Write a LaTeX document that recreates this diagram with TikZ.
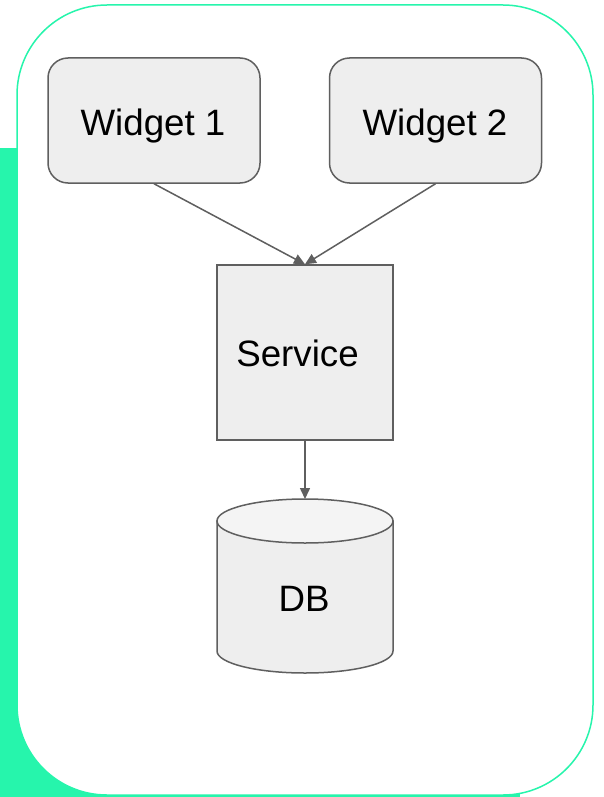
\documentclass[tikz,border=0pt]{standalone}
\usepackage{fontspec}
\setmainfont{Liberation Sans}
\usetikzlibrary{arrows.meta}
\definecolor{mint}{HTML}{26F5AC}
\definecolor{boxfill}{HTML}{EEEEEE}
\definecolor{boxtop}{HTML}{F4F4F4}
\definecolor{boxline}{HTML}{5F5F5F}
\tikzset{
  lbl/.style={font=\fontsize{36.7}{40}\selectfont, text=black, anchor=base, inner sep=0pt},
  widgetbox/.style={draw=boxline, fill=boxfill, line width=1.5pt, rounded corners=20pt,
    minimum width=212pt, minimum height=125pt, inner sep=0pt},
  servicebox/.style={draw=boxline, fill=boxfill, line width=1.5pt,
    minimum width=176pt, minimum height=175pt, inner sep=0pt},
  arr/.style={draw=boxline, line width=1.5pt, -{Triangle[length=11pt,width=10pt]}},
}
\begin{document}
\begin{tikzpicture}[x=1pt,y=-1pt]
\useasboundingbox (0,0) rectangle (604,797);
\fill[white] (0,0) rectangle (604,797);
% green band
\fill[mint] (0,148) rectangle (520,797);
% outer rounded frame
\draw[mint, line width=1.5pt, fill=white, rounded corners=90pt] (17,5) rectangle (593,795);
% widgets
\node[widgetbox] (w1) at (154,120.5) {};
\node[lbl] (w1t) at (153,135.5) {Widget 1};
\node[widgetbox] (w2) at (435.5,120.5) {};
\node[lbl] (w2t) at (435,135.5) {Widget 2};
% service
\node[servicebox] (svc) at (305,352.5) {};
\node[lbl] (svct) at (297.5,366) {Service};
% DB cylinder
\filldraw[draw=boxline, fill=boxfill, line width=1.5pt]
  (217,521) -- (217,651) arc[start angle=180, end angle=360, x radius=88pt, y radius=22pt] -- (393,521) -- cycle;
\filldraw[draw=boxline, fill=boxtop, line width=1.5pt] (305,521) ellipse[x radius=88pt, y radius=22pt];
\coordinate (dbtop) at (305,499);
\node[lbl] (db) at (304,611) {DB};
% connectors
\draw[arr] (w1.south) -- (svc.north);
\draw[arr] (w2.south) -- (svc.north);
\draw[arr] (svc.south) -- (dbtop);
\end{tikzpicture}
\end{document}
